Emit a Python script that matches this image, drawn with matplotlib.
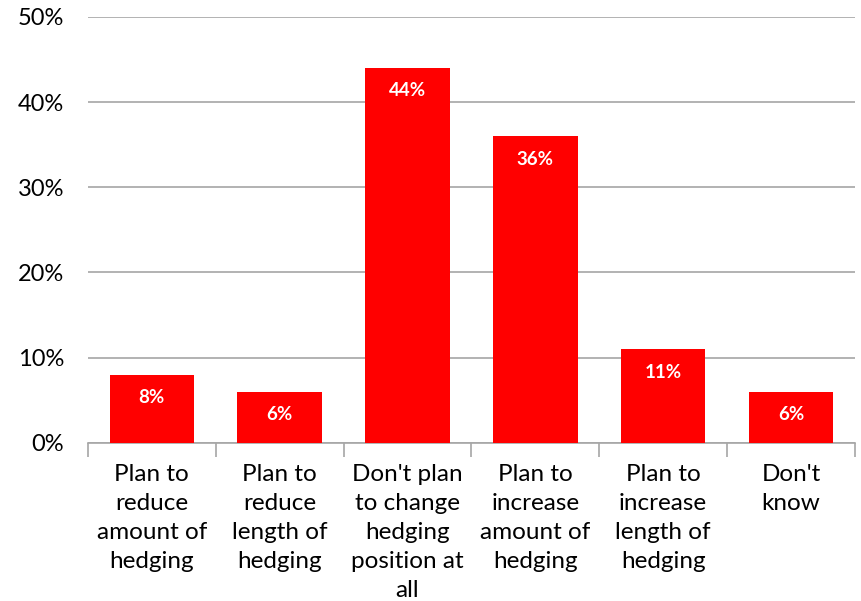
import matplotlib.pyplot as plt
import matplotlib.ticker as mticker

plt.rcParams['font.family'] = ['Lato', 'DejaVu Sans']

categories = ['Plan to\nreduce\namount of\nhedging',
              'Plan to\nreduce\nlength of\nhedging',
              "Don't plan\nto change\nhedging\nposition at\nall",
              'Plan to\nincrease\namount of\nhedging',
              'Plan to\nincrease\nlength of\nhedging',
              "Don't\nknow"]
shares = [8, 6, 44, 36, 11, 6]
yticks = [0, 10, 20, 30, 40, 50]

fig = plt.figure(figsize=(8.61, 6.01), dpi=100)
ax = fig.add_axes([0.102, 0.263, 0.891, 0.709])

x = range(len(categories))
bars = ax.bar(x, shares, width=0.66, color='#ff0000', zorder=3)

for b, v in zip(bars, shares):
    ax.text(b.get_x() + b.get_width() / 2, v - 2.7, f'{v}%',
            ha='center', va='center', color='white',
            fontsize=13.5, fontweight='bold')

ax.set_xlim(-0.5, len(categories) - 0.5)
ax.set_ylim(0, 50)
ax.set_yticks(yticks)
ax.yaxis.set_major_formatter(mticker.FuncFormatter(lambda v, p: f'{v:.0f}%'))
ax.yaxis.grid(True, color='#a6a6a6', linewidth=1.2, zorder=0)

ax.set_xticks(list(x))
ax.set_xticklabels(categories, fontsize=17.5, linespacing=1.47, va='top')
ax.tick_params(axis='x', length=0, pad=15)
ax.tick_params(axis='y', length=0, pad=17, labelsize=17)

# boundary ticks between categories
ax.set_xticks([i - 0.5 for i in range(len(categories) + 1)], minor=True)
ax.tick_params(axis='x', which='minor', length=10, color='#a6a6a6', width=1.2)

for s in ['top', 'right', 'left']:
    ax.spines[s].set_visible(False)
ax.spines['bottom'].set_color('#a6a6a6')
ax.spines['bottom'].set_linewidth(1.2)

fig.savefig('out.png', dpi=100)
